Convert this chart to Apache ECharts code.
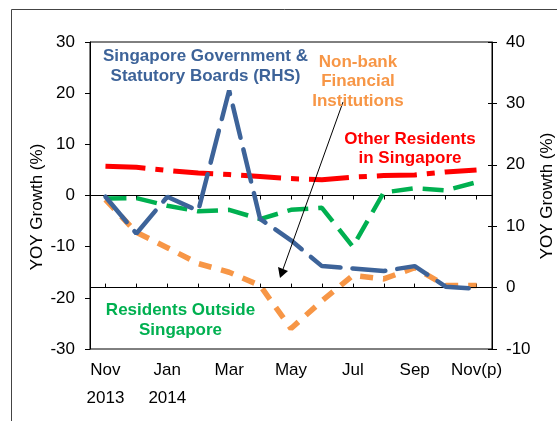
<!DOCTYPE html>
<html>
<head>
<meta charset="utf-8">
<script src="https://cdn.jsdelivr.net/npm/echarts@6/dist/echarts.min.js"></script>
<style>
html,body{margin:0;padding:0;background:#fff;}
#chart{width:557px;height:421px;}
</style>
</head>
<body>
<div id="chart"></div>
<script>
// ---- data ----
var months = ['Nov\n2013','Dec','Jan\n2014','Feb','Mar','Apr','May','Jun','Jul','Aug','Sep','Oct','Nov(p)'];
var otherResidents = [5.7, 5.5, 4.9, 4.4, 4.1, 3.7, 3.3, 3.1, 3.6, 3.9, 4.0, 4.6, 5.0];
var residentsOutside = [-0.6, -0.5, -2.0, -3.1, -2.8, -4.6, -2.8, -2.4, -10.0, 0.6, 1.4, 1.0, 2.6];
var nonBankFI = [-0.8, -7.2, -10.2, -13.3, -15.0, -17.6, -26.0, -20.6, -15.6, -16.3, -14.1, -17.6, -17.6];
var govStatutory = [14.8, 8.8, 14.8, 12.5, 32.1, 11.2, 7.7, 3.5, 3.1, 2.7, 3.5, 0.15, -0.2]; // RHS
var leftTicks = {min: -30, max: 30, interval: 10};
var rightTicks = {min: -10, max: 40, interval: 10};

var FONT = '"Liberation Sans", Arial, sans-serif';
var chart = echarts.init(document.getElementById('chart'), null, {renderer: 'canvas'});

function lbl(text, x, y, color) {
  return {type: 'text', x: x, y: y, silent: true, z: 100,
    style: {text: text, fill: color, font: 'bold 17px ' + FONT, textAlign: 'center', textVerticalAlign: 'middle'}};
}

var option = {
  animation: false,
  backgroundColor: '#fff',
  grid: {left: 90, right: 65, top: 42, bottom: 72, show: true, borderColor: '#000', borderWidth: 1},
  xAxis: [{
    type: 'category', data: months, boundaryGap: true, position: 'bottom',
    axisLine: {show: true, lineStyle: {color: '#000', width: 1}},
    axisTick: {show: true, interval: 0, alignWithLabel: true, length: 4, lineStyle: {color: '#000'}},
    axisLabel: {interval: 1, color: '#000', fontFamily: FONT, fontSize: 17, lineHeight: 28, margin: 7},
    splitLine: {show: false}
  }, {
    type: 'category', data: months, boundaryGap: true, position: 'bottom', offset: 0,
    axisLine: {show: false},
    axisTick: {show: true, inside: true, interval: 0, alignWithLabel: true, length: 4, lineStyle: {color: '#000'}},
    axisLabel: {show: false}, splitLine: {show: false}
  }],
  yAxis: [{
    type: 'value', position: 'left', min: leftTicks.min, max: leftTicks.max, interval: leftTicks.interval,
    axisLine: {show: true, lineStyle: {color: '#000'}},
    axisTick: {show: true, length: 5, lineStyle: {color: '#000'}},
    axisLabel: {color: '#000', fontFamily: FONT, fontSize: 17, margin: 15},
    splitLine: {show: false}
  }, {
    type: 'value', position: 'right', min: rightTicks.min, max: rightTicks.max, interval: rightTicks.interval,
    axisLine: {show: true, lineStyle: {color: '#000'}},
    axisTick: {show: true, length: 5, lineStyle: {color: '#000'}},
    axisLabel: {color: '#000', fontFamily: FONT, fontSize: 17, margin: 14},
    splitLine: {show: false}
  }, {
    type: 'value', position: 'right', min: rightTicks.min, max: rightTicks.max, interval: rightTicks.interval,
    axisLine: {show: false},
    axisTick: {show: true, inside: true, length: 4, lineStyle: {color: '#000'}},
    axisLabel: {show: false}, splitLine: {show: false}
  }],
  series: [{
    name: 'Other Residents in Singapore', type: 'line', data: otherResidents, yAxisIndex: 0,
    showSymbol: false, symbol: 'none',
    lineStyle: {color: '#FF0000', width: 5, type: [40, 10, 8, 10], cap: 'butt'}
  }, {
    name: 'Residents Outside Singapore', type: 'line', data: residentsOutside, yAxisIndex: 0,
    showSymbol: false, symbol: 'none',
    lineStyle: {color: '#00B050', width: 4.5, type: [21, 10], cap: 'butt'}
  }, {
    name: 'Non-bank Financial Institutions', type: 'line', data: nonBankFI, yAxisIndex: 0,
    showSymbol: false, symbol: 'none',
    lineStyle: {color: '#F79646', width: 5.5, type: [13, 10], cap: 'butt'}
  }, {
    name: 'Singapore Government & Statutory Boards (RHS)', type: 'line', data: govStatutory, yAxisIndex: 1,
    showSymbol: false, symbol: 'none', z: 5,
    lineStyle: {color: '#3D6399', width: 4.5, type: [33, 12], cap: 'round'},
    markLine: {silent: true, symbol: 'none', label: {show: false},
      lineStyle: {color: '#000', width: 1, type: 'solid'}, data: [{yAxis: 0}]}
  }],
  graphic: [
    {type: 'line', silent: true, shape: {x1: 11.5, y1: 9.5, x2: 11.5, y2: 421}, style: {stroke: '#444', lineWidth: 1}},
    {type: 'line', silent: true, shape: {x1: 11.5, y1: 9.5, x2: 557, y2: 9.5}, style: {stroke: '#444', lineWidth: 1}},
    {type: 'text', x: 37, y: 207, rotation: Math.PI / 2, silent: true,
      style: {text: 'YOY Growth (%)', fill: '#000', font: '17px ' + FONT, textAlign: 'center', textVerticalAlign: 'middle'}},
    {type: 'text', x: 547, y: 196, rotation: Math.PI / 2, silent: true,
      style: {text: 'YOY Growth (%)', fill: '#000', font: '17px ' + FONT, textAlign: 'center', textVerticalAlign: 'middle'}},
    lbl('Singapore Government &', 205.5, 56, '#3D6399'),
    lbl('Statutory Boards (RHS)', 205.5, 76, '#3D6399'),
    lbl('Non-bank', 358, 62, '#F79646'),
    lbl('Financial', 358, 81, '#F79646'),
    lbl('Institutions', 358, 101, '#F79646'),
    lbl('Other Residents', 410, 139, '#FF0000'),
    lbl('in Singapore', 410, 158.5, '#FF0000'),
    lbl('Residents Outside', 180.5, 310, '#00B050'),
    lbl('Singapore', 180.5, 330.5, '#00B050'),
    {type: 'line', silent: true, z: 50, shape: {x1: 343, y1: 102, x2: 282, y2: 272}, style: {stroke: '#000', lineWidth: 1}},
    {type: 'polygon', silent: true, z: 50, shape: {points: [[280, 278], [278, 267], [288, 271]]}, style: {fill: '#000'}}
  ]
};
chart.setOption(option);
</script>
</body>
</html>
